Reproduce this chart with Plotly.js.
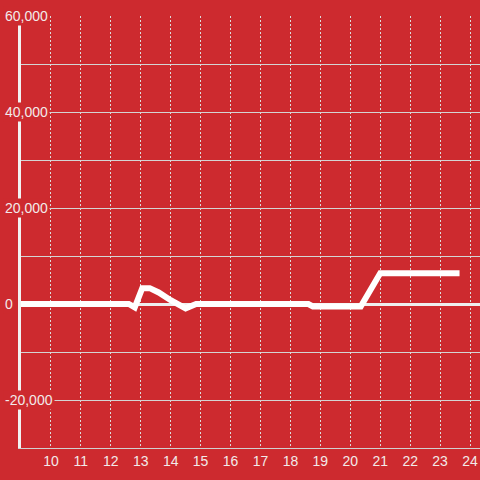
<!DOCTYPE html>
<html>
<head>
<meta charset="utf-8">
<script src="https://cdn.plot.ly/plotly-3.0.1.min.js"></script>
<style>html,body{margin:0;padding:0;background:#cd2a2f;}#chart{width:480px;height:480px;}</style>
</head>
<body>
<div id="chart"></div>
<script>
// Series (x = hour of day, y = value)
const hours  = [9, 12.6, 12.8, 13.05, 13.3, 13.6, 14.0, 14.5, 14.85, 18.6, 18.75, 20.35, 21.0, 23.65];
const values = [0, 0, -700, 3300, 3300, 2400, 800, -900, 0, 0, -500, -500, 6400, 6400];

// Axis ticks
const xTickVals = [10, 11, 12, 13, 14, 15, 16, 17, 18, 19, 20, 21, 22, 23, 24];
const yTickVals = [-20000, 0, 20000, 40000, 60000];
const yTickText = ['-20,000', '0', '20,000', '40,000', '60,000'];

const BG = '#cd2a2f';
const TXT = '#f2eaea';
const FONT = 'Liberation Sans, Arial, sans-serif';

const trace = {
  x: hours,
  y: values,
  type: 'scatter',
  mode: 'lines',
  line: {color: '#ffffff', width: 6},
  hoverinfo: 'skip'
};

const annotations = yTickVals.map((v, i) => ({
  xref: 'paper', yref: 'y',
  x: -0.04, y: v,
  xanchor: 'left', yanchor: 'middle',
  text: yTickText[i],
  showarrow: false,
  bgcolor: BG,
  borderpad: 1,
  font: {family: FONT, size: 14, color: TXT}
}));

const layout = {
  width: 480, height: 480,
  paper_bgcolor: BG,
  plot_bgcolor: BG,
  margin: {l: 21, r: 0, t: 16, b: 32},
  showlegend: false,
  font: {family: FONT, size: 14, color: TXT},
  xaxis: {
    range: [9, 24.333],
    tickvals: xTickVals,
    ticktext: xTickVals.map(String),
    ticks: '',
    showgrid: true,
    gridcolor: '#dcdcdc',
    gridwidth: 1,
    griddash: '2px,2px',
    zeroline: false,
    showline: true,
    linecolor: '#d0d0d0',
    linewidth: 1,
    tickfont: {family: FONT, size: 14, color: TXT}
  },
  yaxis: {
    range: [-30000, 60000],
    tick0: 0,
    dtick: 20000,
    showticklabels: false,
    ticks: '',
    showgrid: true,
    gridcolor: '#d4d4d4',
    gridwidth: 1,
    minor: {dtick: 10000, showgrid: true, gridcolor: '#d4d4d4', gridwidth: 1, ticks: ''},
    zeroline: true,
    zerolinecolor: '#eeeeee',
    zerolinewidth: 3,
    showline: true,
    linecolor: '#f2f2f2',
    linewidth: 3
  },
  annotations: annotations
};

Plotly.newPlot('chart', [trace], layout, {displayModeBar: false, staticPlot: true});
</script>
</body>
</html>
